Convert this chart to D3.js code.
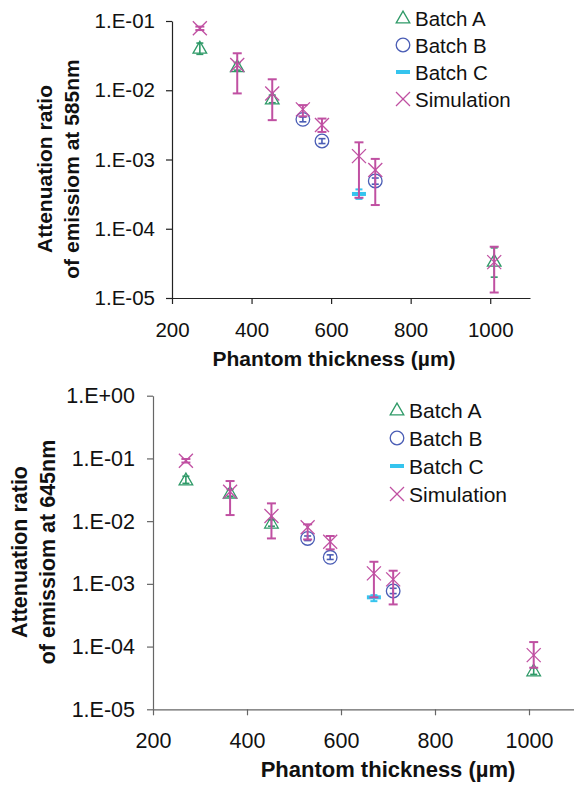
<!DOCTYPE html>
<html>
<head>
<meta charset="utf-8">
<script src="https://cdn.jsdelivr.net/npm/d3@7"></script>
<style>
  html, body { margin: 0; padding: 0; background: #fff; }
  svg { display: block; font-family: "Liberation Sans", Arial, sans-serif; }
</style>
</head>
<body>
<svg id="chart" width="574" height="789"></svg>
<script>
// ---------- DATA ----------
const xTicks = [200, 400, 600, 800, 1000];
const yTicksTop = [1e-1, 1e-2, 1e-3, 1e-4, 1e-5];
const yTicksBottom = [1, 1e-1, 1e-2, 1e-3, 1e-4, 1e-5];
const legendLabels = ["Batch A", "Batch B", "Batch C", "Simulation"];

// Simulation (both wavelengths share thickness)
const simThickness = [270, 364, 452, 529, 577, 670, 711, 1010];
const sim585   = [0.0785, 0.0232, 0.0090, 0.0053, 0.00315, 0.00112, 0.000705, 3.3e-5];
const sim585Lo = [0.074, 0.0090, 0.0037, 0.0042, 0.0025, 0.00028, 0.00022, 1.2e-5];
const sim585Hi = [0.083, 0.0342, 0.0144, 0.0061, 0.0039, 0.00177, 0.00102, 5.5e-5];
const sim645   = [0.0919, 0.0294, 0.0121, 0.0080, 0.0047, 0.00147, 0.00118, 7.3e-5];
const sim645Lo = [0.086, 0.0125, 0.0053, 0.0051, 0.00355, 0.00061, 0.00047, 4.6e-5];
const sim645Hi = [0.098, 0.0436, 0.0192, 0.0089, 0.0058, 0.00225, 0.00162, 0.000118];

// Batch A
const aThickness = [270, 364, 452, 1010];
const a585   = [0.0404, 0.0219, 0.0075, 3.4e-5];
const a585Lo = [0.033, 0.0195, 0.0066, 2.0e-5];
const a585Hi = [0.048, 0.0250, 0.0085, 5.3e-5];
const a645   = [0.0453, 0.0280, 0.0093, 4.1e-5];
const a645Lo = [0.040, 0.0250, 0.0083, 3.6e-5];
const a645Hi = [0.052, 0.0320, 0.0105, 4.6e-5];

// Batch B
const bThickness = [529, 577, 711];
const b585   = [0.0038, 0.00185, 0.00049];
const b585Lo = [0.0035, 0.00170, 0.00044];
const b585Hi = [0.0041, 0.00200, 0.00054];
const b645   = [0.0053, 0.00265, 0.00077];
const b645Lo = [0.0049, 0.00245, 0.00070];
const b645Hi = [0.0058, 0.00290, 0.00085];

// Batch C
const cThickness = [670];
const c585   = [0.000318];
const c585Lo = [0.00027];
const c585Hi = [0.00037];
const c645   = [0.00061];
const c645Lo = [0.00053];
const c645Hi = [0.00066];

// ---------- STYLE ----------
const COL_A = "#2f9a68";
const COL_B = "#4a5db5";
const COL_C = "#35c4ee";
const COL_S = "#c050a2";

const svg = d3.select("#chart");
svg.append("rect").attr("width", 574).attr("height", 789).attr("fill", "#fff");

function fmtE(v) {
  const e = Math.round(Math.log10(v));
  return "1.E" + (e < 0 ? "-" : "+") + String(Math.abs(e)).padStart(2, "0");
}

function zip(xs, ys, lo, hi) {
  return xs.map((x, i) => ({ x, y: ys[i], lo: lo[i], hi: hi[i] }));
}

function drawPanel(cfg) {
  const g = svg.append("g");
  const x = d3.scaleLinear().domain([200, 1100]).range([cfg.x0, cfg.x1]);
  const y = d3.scaleLog().domain(cfg.yDomain).range([cfg.yBottom, cfg.yTop]);

  // axes
  const ax = g.append("g").attr("transform", `translate(0,${cfg.yBottom})`)
    .call(d3.axisBottom(x).tickValues(xTicks).tickSize(6).tickSizeOuter(0).tickFormat(d3.format("d")));
  ax.selectAll("text").attr("dy", null).attr("y", 39)
    .attr("font-size", cfg.fs).attr("fill", "#111").attr("font-family", "Liberation Sans, Arial, sans-serif");
  ax.selectAll("line,path").attr("stroke", cfg.axisCol).attr("stroke-width", 1.2);

  const ay = g.append("g").attr("transform", `translate(${cfg.x0},0)`)
    .call(d3.axisLeft(y).tickValues(cfg.yTicks).tickSize(6).tickSizeOuter(0).tickPadding(cfg.pad).tickFormat(fmtE));
  ay.selectAll("text").attr("font-size", cfg.fs).attr("fill", "#111")
    .attr("font-family", "Liberation Sans, Arial, sans-serif");
  ay.selectAll("line,path").attr("stroke", cfg.axisCol).attr("stroke-width", 1.2);

  // axis titles
  g.append("text").attr("x", cfg.xTitleX).attr("y", cfg.yBottom + 68)
    .attr("text-anchor", "middle").attr("font-weight", "bold").attr("font-size", cfg.tfsX)
    .attr("fill", "#111").text("Phantom thickness (µm)");
  const yt = g.append("text").attr("text-anchor", "middle").attr("font-weight", "bold")
    .attr("font-size", cfg.tfs).attr("fill", "#111")
    .attr("transform", `translate(${cfg.yTitleX},${cfg.yTitleY}) rotate(-90)`);
  yt.append("tspan").attr("x", 0).attr("y", 0).text("Attenuation ratio");
  yt.append("tspan").attr("x", 0).attr("y", cfg.yTitleGap).text(cfg.yTitle2);

  // error bars
  function errBars(data, color, width, cap) {
    const eg = g.append("g").attr("stroke", color).attr("stroke-width", width);
    data.forEach(d => {
      const cx = x(d.x);
      eg.append("line").attr("x1", cx).attr("x2", cx).attr("y1", y(d.lo)).attr("y2", y(d.hi));
      eg.append("line").attr("x1", cx - cap).attr("x2", cx + cap).attr("y1", y(d.lo)).attr("y2", y(d.lo));
      eg.append("line").attr("x1", cx - cap).attr("x2", cx + cap).attr("y1", y(d.hi)).attr("y2", y(d.hi));
    });
  }

  // Batch A
  errBars(cfg.A, COL_A, 1.6, 3.5);
  g.append("g").selectAll("path").data(cfg.A).join("path")
    .attr("d", d3.symbol(d3.symbolTriangle, 80))
    .attr("transform", d => `translate(${x(d.x)},${y(d.y) + 1})`)
    .attr("fill", "none").attr("stroke", COL_A).attr("stroke-width", 1.3);

  // Batch B
  errBars(cfg.B, COL_B, 1.6, 3.5);
  g.append("g").selectAll("circle").data(cfg.B).join("circle")
    .attr("cx", d => x(d.x)).attr("cy", d => y(d.y)).attr("r", 6.8)
    .attr("fill", "none").attr("stroke", COL_B).attr("stroke-width", 1.3);

  // Batch C
  errBars(cfg.C, COL_C, 2, 3.5);
  g.append("g").selectAll("rect").data(cfg.C).join("rect")
    .attr("x", d => x(d.x) - 7).attr("y", d => y(d.y) - 2).attr("width", 14).attr("height", 4)
    .attr("fill", COL_C);

  // Simulation
  errBars(cfg.S, COL_S, 2, 4.5);
  const sg = g.append("g").attr("stroke", COL_S).attr("stroke-width", 1.3);
  cfg.S.forEach(d => {
    const cx = x(d.x), cy = y(d.y), r = 7;
    sg.append("line").attr("x1", cx - r).attr("x2", cx + r).attr("y1", cy - r).attr("y2", cy + r);
    sg.append("line").attr("x1", cx - r).attr("x2", cx + r).attr("y1", cy + r).attr("y2", cy - r);
  });

  // legend
  const lg = g.append("g");
  legendLabels.forEach((lab, i) => {
    const cy = cfg.legY + i * cfg.legStep;
    const mx = cfg.legX;
    if (i === 0) {
      lg.append("path").attr("d", d3.symbol(d3.symbolTriangle, 80))
        .attr("transform", `translate(${mx},${cy + 1})`)
        .attr("fill", "none").attr("stroke", COL_A).attr("stroke-width", 1.3);
    } else if (i === 1) {
      lg.append("circle").attr("cx", mx).attr("cy", cy).attr("r", 6.8)
        .attr("fill", "none").attr("stroke", COL_B).attr("stroke-width", 1.3);
    } else if (i === 2) {
      lg.append("rect").attr("x", mx - 7).attr("y", cy - 2).attr("width", 14).attr("height", 4).attr("fill", COL_C);
    } else {
      lg.append("line").attr("x1", mx - 7).attr("x2", mx + 7).attr("y1", cy - 7).attr("y2", cy + 7)
        .attr("stroke", COL_S).attr("stroke-width", 1.3);
      lg.append("line").attr("x1", mx - 7).attr("x2", mx + 7).attr("y1", cy + 7).attr("y2", cy - 7)
        .attr("stroke", COL_S).attr("stroke-width", 1.3);
    }
    lg.append("text").attr("x", mx + 12).attr("y", cy + 7.5).attr("font-size", cfg.lfs)
      .attr("fill", "#111").text(lab);
  });
}

drawPanel({
  x0: 172, x1: 530, yTop: 21, yBottom: 298,
  yDomain: [1e-5, 1e-1], yTicks: yTicksTop, fs: 20.5, pad: 11, axisCol: "#222",
  tfs: 21, tfsX: 21, lfs: 20.5,
  xTitleX: 334, yTitleX: 52, yTitleY: 169, yTitleGap: 26.5,
  yTitle2: "of emissiom at 585nm",
  legX: 403, legY: 18, legStep: 27,
  A: zip(aThickness, a585, a585Lo, a585Hi),
  B: zip(bThickness, b585, b585Lo, b585Hi),
  C: zip(cThickness, c585, c585Lo, c585Hi),
  S: zip(simThickness, sim585, sim585Lo, sim585Hi)
});

drawPanel({
  x0: 153, x1: 576, yTop: 395.7, yBottom: 709.3,
  yDomain: [1e-5, 1], yTicks: yTicksBottom, fs: 21.5, pad: 12, axisCol: "#666",
  tfs: 21.5, tfsX: 22, lfs: 21,
  xTitleX: 388, yTitleX: 27, yTitleY: 552, yTitleGap: 28,
  yTitle2: "of emissiom at 645nm",
  legX: 397, legY: 410, legStep: 28,
  A: zip(aThickness, a645, a645Lo, a645Hi),
  B: zip(bThickness, b645, b645Lo, b645Hi),
  C: zip(cThickness, c645, c645Lo, c645Hi),
  S: zip(simThickness, sim645, sim645Lo, sim645Hi)
});
</script>
</body>
</html>
